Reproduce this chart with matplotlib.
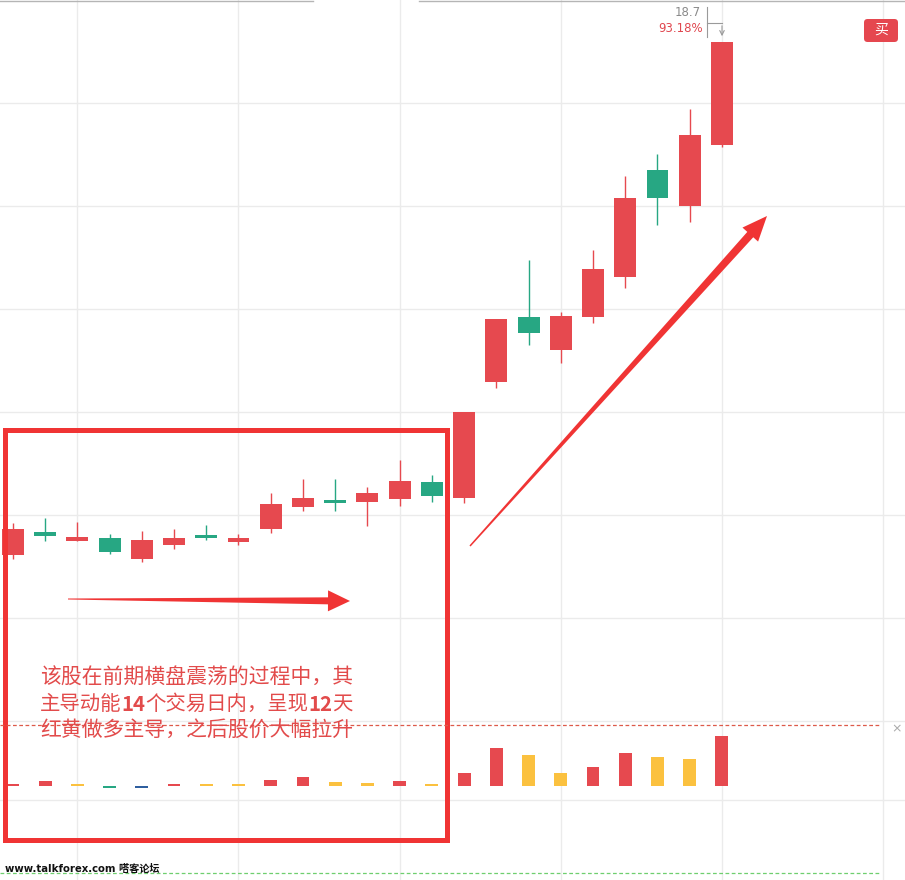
import matplotlib
matplotlib.use('Agg')
import matplotlib.pyplot as plt
from matplotlib.patches import Polygon, Rectangle, FancyBboxPatch, FancyArrowPatch
from matplotlib.lines import Line2D
import numpy as np

plt.rcParams['font.family'] = ['Noto Sans CJK SC', 'DejaVu Sans']

# daily candles (open, high, low, close)
opens  = [9.22, 9.67, 9.50, 9.55, 9.15, 9.42, 9.61, 9.48, 9.73, 10.16, 10.29, 10.25,
          10.31, 10.64, 10.33, 12.58, 13.85, 13.20, 13.84, 14.62, 16.70, 16.00, 17.18]
highs  = [9.85, 9.94, 9.86, 9.63, 9.69, 9.73, 9.81, 9.63, 10.43, 10.70, 10.70, 10.54,
          11.07, 10.78, 12.00, 13.81, 14.95, 13.94, 15.15, 16.58, 17.01, 17.88, 19.18]
lows   = [9.15, 9.50, 9.49, 9.24, 9.09, 9.34, 9.51, 9.42, 9.65, 10.08, 10.08, 9.79,
          10.17, 10.25, 10.23, 12.47, 13.30, 12.95, 13.73, 14.41, 15.63, 15.69, 17.15]
closes = [9.73, 9.59, 9.57, 9.28, 9.51, 9.55, 9.55, 9.55, 10.21, 10.33, 10.23, 10.43,
          10.66, 10.37, 12.00, 13.81, 13.53, 13.86, 14.78, 16.16, 16.16, 17.38, 19.18]

# momentum bars below the price pane
energy = [2.5, 5, 2, -2, -1.5, 2.5, 2, 2, 6, 9, 4, 3, 5, 2, 13, 38, 31, 13, 19, 33, 29, 27, 50]
energy_kind = ['r', 'r', 'y', 'g', 'b', 'r', 'y', 'y', 'r', 'r', 'y', 'y', 'r', 'y',
               'r', 'r', 'y', 'y', 'r', 'r', 'y', 'y', 'r']

RED = '#e6494f'
GREEN = '#27a783'
kind_color = {'r': RED, 'y': '#fbc13f', 'g': '#27a783', 'b': '#2f5f9f'}
MARK = '#f03434'

W, H = 905, 880
fig = plt.figure(figsize=(W / 100, H / 100), dpi=100)


def fp(x, y):
    # pixel position on the canvas -> figure fraction
    return x / W, 1 - y / H


idx = np.arange(len(opens))

# ---- price pane
ax = fig.add_axes([0, 0, 1, 1])
ax.set_xlim(-0.40, 27.68)
ax.set_ylim(2.913, 20.0)
ax.set_xticks([2, 7, 12, 17, 22, 27])
ax.set_yticks([6, 8, 10, 12, 14, 16, 18])
ax.tick_params(length=0, labelbottom=False, labelleft=False)
ax.grid(color='#ebebeb', lw=1)
for s in ax.spines.values():
    s.set_visible(False)
ax.set_axisbelow(True)

for i in idx:
    c = RED if closes[i] >= opens[i] else GREEN
    ax.vlines(i, lows[i], highs[i], color=c, lw=1.0, zorder=2)
    lo = min(opens[i], closes[i])
    hgt = max(abs(closes[i] - opens[i]), 0.06)
    ax.bar(i, hgt, bottom=lo, width=0.68, color=c, zorder=3)

# ---- indicator pane
ax2 = fig.add_axes([0, 0, 1, 180 / H])
ax2.set_xlim(ax.get_xlim())
ax2.set_ylim(-94, 86)
ax2.axis('off')
ax2.bar(idx, energy, width=0.40, color=[kind_color[k] for k in energy_kind], zorder=3)
ax2.axhline(-14, color='#ebebeb', lw=1, zorder=1)

# dashed guide lines
fig.add_artist(Line2D([0, 880 / W], [1 - 725 / H] * 2, color='#dd5a4a', lw=0.9,
                      ls=(0, (3, 2))))
fig.add_artist(Line2D([0, 880 / W], [1 - 873 / H] * 2, color='#6fcf6f', lw=0.9,
                      ls=(0, (3, 2))))
fig.text(*fp(897, 729), '×', color='#aaaaaa', fontsize=9, ha='center', va='center',
         family='DejaVu Sans')

# top border pieces
fig.add_artist(Line2D([0, 313 / W], [1 - 1.5 / H] * 2, color='#b5b5b5', lw=1))
fig.add_artist(Line2D([419 / W, 1], [1 - 1.5 / H] * 2, color='#b5b5b5', lw=1))

# max price marker
fig.text(*fp(701, 13), '18.7', color='#8a8a8a', fontsize=8.5, ha='right', va='center',
         family='DejaVu Sans')
fig.text(*fp(703, 29), '93.18%', color='#e0474f', fontsize=8.5, ha='right', va='center',
         family='DejaVu Sans')
fig.add_artist(Line2D([707 / W] * 2, [1 - 7 / H, 1 - 37 / H], color='#9a9a9a', lw=0.8))
fig.add_artist(Line2D([707 / W, 722 / W], [1 - 23 / H] * 2, color='#9a9a9a', lw=0.8))
fig.add_artist(FancyArrowPatch(fp(722, 23), fp(722, 39), arrowstyle='->', mutation_scale=8,
                               color='#9a9a9a', lw=0.8, transform=fig.transFigure))

# buy button
x0, y0 = fp(864, 42)
fig.add_artist(FancyBboxPatch((x0, y0), 34 / W, 23 / H, boxstyle='round,pad=0,rounding_size=0.004',
                              fc='#e5474f', ec='none', transform=fig.transFigure))
fig.text(*fp(881, 30), '买', color='white', fontsize=10, ha='center', va='center')


# ---- hand drawn marks
def taper_arrow(x0, y0, x1, y1, w_tail, w_shaft, w_head, l_head):
    p0 = np.array([x0, y0], float)
    p1 = np.array([x1, y1], float)
    u = (p1 - p0) / np.linalg.norm(p1 - p0)
    n = np.array([-u[1], u[0]])
    pb = p1 - u * l_head
    pts = [p0 + n * w_tail / 2, pb + n * w_shaft / 2, pb + n * w_head / 2, p1,
           pb - n * w_head / 2, pb - n * w_shaft / 2, p0 - n * w_tail / 2]
    pts = [fp(*p) for p in pts]
    fig.add_artist(Polygon(pts, closed=True, fc=MARK, ec='none', transform=fig.transFigure))


taper_arrow(68, 599, 350, 601, 1, 7, 21, 22)
taper_arrow(470, 546, 767, 216, 1.5, 8, 21, 25)

rx, ry = fp(5, 840)
fig.add_artist(Rectangle((rx, ry), 442 / W, 410 / H, fill=False, ec=MARK, lw=3.6,
                         transform=fig.transFigure))

renderer = fig.canvas.get_renderer()


def text_runs(x, y, runs, size=15):
    for s, bold in runs:
        t = fig.text(*fp(x, y), s, color='#e24b4b', fontsize=size, va='center',
                     weight='bold' if bold else 'normal')
        x += t.get_window_extent(renderer=renderer).width


text_runs(40, 678, [('该股在前期横盘震荡的过程中，其', False)])
text_runs(40, 704, [('主导动能', False), ('14', True), ('个交易日内，呈现', False),
                    ('12', True), ('天', False)], size=14.7)
text_runs(40, 730, [('红黄做多主导，之后股价大幅拉升', False)])

fig.text(*fp(5, 869), 'www.talkforex.com 嗒客论坛', color='#111111', fontsize=7.3,
         va='center', weight='bold', family=['DejaVu Sans', 'Noto Sans CJK SC'])

fig.savefig('out.png', dpi=100)
